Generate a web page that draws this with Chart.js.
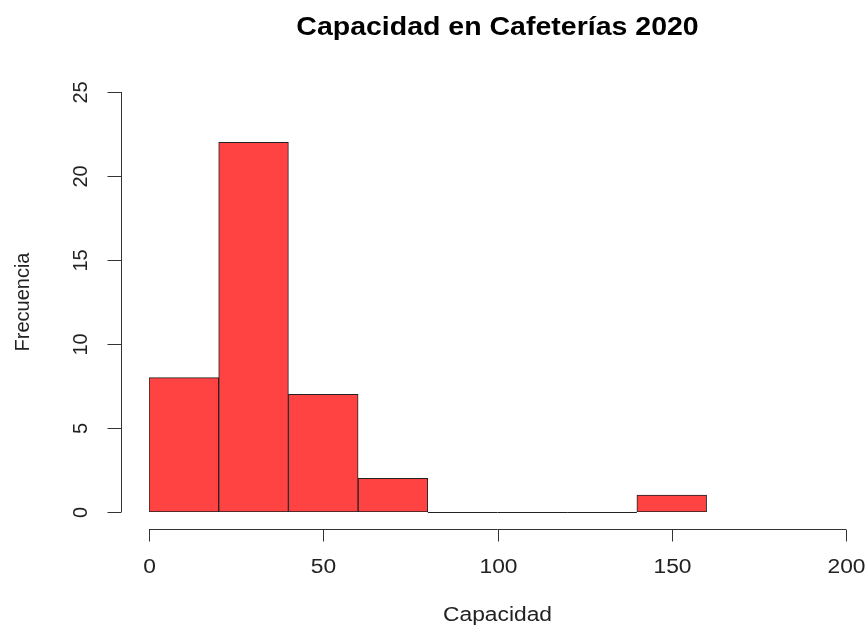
<!DOCTYPE html>
<html>
<head>
<meta charset="utf-8">
<script src="https://cdn.jsdelivr.net/npm/chart.js@4"></script>
<style>
  html, body { margin: 0; padding: 0; background: #fff; }
  #wrap { width: 867px; height: 629px; }
</style>
</head>
<body>
<div id="wrap"><canvas id="histChart" width="867" height="629"></canvas></div>
<script>
// histogram bins (lower edges, width 20) and counts
const binStarts = [0, 20, 40, 60, 80, 100, 120, 140];
const binWidth = 20;
const counts = [8, 22, 7, 2, 0, 0, 0, 1];
const xTicks = [0, 50, 100, 150, 200];
const yTicks = [0, 5, 10, 15, 20, 25];

const titleText = "Capacidad en Cafeterías 2020";
const xTitle = "Capacidad";
const yTitle = "Frecuencia";

// the picture is stretched sideways a little, so horizontal text is too
const stretch = 1.14;
const fontFam = "'Liberation Sans', Arial, sans-serif";

function stretchedText(ctx, text, x, y) {
  ctx.save();
  ctx.translate(x, y);
  ctx.scale(stretch, 1);
  ctx.fillText(text, 0, 0);
  ctx.restore();
}

const rAxes = {
  id: "rAxes",
  afterDraw(chart) {
    const ctx = chart.ctx;
    const xs = chart.scales.x;
    const ys = chart.scales.y;
    const area = chart.chartArea;

    ctx.save();
    // zero-height bins are drawn as a flat line, like R does
    const meta = chart.getDatasetMeta(0);
    ctx.strokeStyle = "#222";
    ctx.lineWidth = 1;
    meta.data.forEach((bar, i) => {
      if (counts[i] === 0) {
        ctx.beginPath();
        ctx.moveTo(bar.x - bar.width / 2, Math.round(bar.base) + 0.5);
        ctx.lineTo(bar.x + bar.width / 2, Math.round(bar.base) + 0.5);
        ctx.stroke();
      }
    });

    ctx.strokeStyle = "#333";
    ctx.fillStyle = "#222";

    // y axis, detached to the left
    const yAxisX = area.left - 27.5;
    ctx.beginPath();
    ctx.moveTo(yAxisX, ys.getPixelForValue(yTicks[0]));
    ctx.lineTo(yAxisX, ys.getPixelForValue(yTicks[yTicks.length - 1]));
    ctx.stroke();
    ctx.font = "20px " + fontFam;
    ctx.textAlign = "center";
    ctx.textBaseline = "middle";
    yTicks.forEach(v => {
      const py = Math.round(ys.getPixelForValue(v)) + 0.5;
      ctx.beginPath();
      ctx.moveTo(yAxisX, py);
      ctx.lineTo(yAxisX - 14, py);
      ctx.stroke();
      ctx.save();
      ctx.translate(area.left - 68, py);
      ctx.rotate(-Math.PI / 2);
      ctx.fillText(String(v), 0, 0);
      ctx.restore();
    });

    // x axis, detached below
    const xAxisY = area.bottom + 17.5;
    ctx.beginPath();
    ctx.moveTo(xs.getPixelForValue(xTicks[0]), xAxisY);
    ctx.lineTo(xs.getPixelForValue(xTicks[xTicks.length - 1]), xAxisY);
    ctx.stroke();
    xTicks.forEach(v => {
      const px = Math.round(xs.getPixelForValue(v)) + 0.5;
      ctx.beginPath();
      ctx.moveTo(px, xAxisY);
      ctx.lineTo(px, xAxisY + 12);
      ctx.stroke();
      stretchedText(ctx, String(v), px, area.bottom + 55);
    });

    // axis titles
    ctx.font = "20px " + fontFam;
    stretchedText(ctx, xTitle, (area.left + area.right) / 2, area.bottom + 103);
    ctx.save();
    ctx.translate(23, (area.top + area.bottom) / 2);
    ctx.rotate(-Math.PI / 2);
    ctx.fillText(yTitle, 0, 0);
    ctx.restore();

    // main title
    ctx.fillStyle = "#000";
    ctx.font = "bold 25px " + fontFam;
    stretchedText(ctx, titleText, (area.left + area.right) / 2, 28);
    ctx.restore();
  }
};

const ctx = document.getElementById("histChart").getContext("2d");
new Chart(ctx, {
  type: "bar",
  data: {
    datasets: [
      {
        label: "Frecuencia",
        data: binStarts.map((s, i) => ({ x: s + binWidth / 2, y: counts[i] })),
        backgroundColor: "#FF4242",
        borderColor: "#222",
        borderWidth: 1,
        borderSkipped: false,
        barPercentage: 1,
        categoryPercentage: 1,
      },
    ],
  },
  options: {
    responsive: false,
    animation: false,
    layout: {
      padding: { left: 149, right: 21, top: 92, bottom: 117 },
    },
    scales: {
      x: { type: "linear", min: 0, max: 200, offset: false, display: false },
      y: { min: 0, max: 25, display: false },
    },
    plugins: {
      legend: { display: false },
      tooltip: { enabled: false },
    },
  },
  plugins: [rAxes],
});
</script>
</body>
</html>
